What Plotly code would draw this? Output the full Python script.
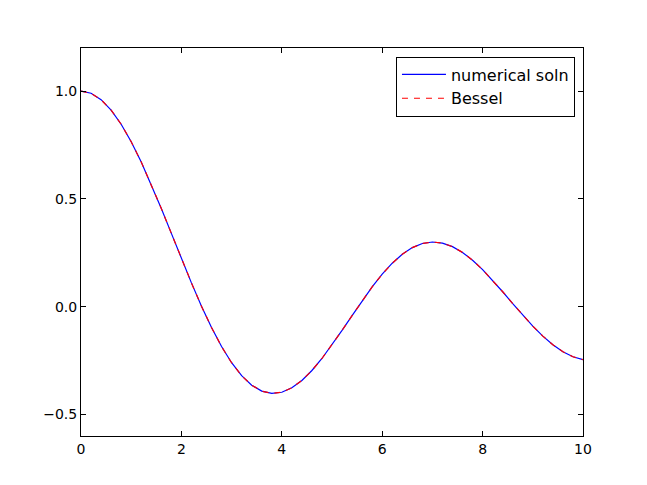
import plotly.graph_objects as go

x_vals = [0.0, 0.2, 0.4, 0.6, 0.8, 1.0, 1.2, 1.4, 1.6, 1.8, 2.0, 2.2, 2.4, 2.6, 2.8,
          3.0, 3.2, 3.4, 3.6, 3.8, 4.0, 4.2, 4.4, 4.6, 4.8, 5.0, 5.2, 5.4, 5.6, 5.8,
          6.0, 6.2, 6.4, 6.6, 6.8, 7.0, 7.2, 7.4, 7.6, 7.8, 8.0, 8.2, 8.4, 8.6, 8.8,
          9.0, 9.2, 9.4, 9.6, 9.8, 10.0]

numerical_soln = [1.0, 0.99002, 0.96040, 0.91200, 0.84629, 0.76520, 0.67113, 0.56686,
                  0.45540, 0.33999, 0.22389, 0.11036, 0.00251, -0.09680, -0.18504,
                  -0.26005, -0.32019, -0.36430, -0.39177, -0.40256, -0.39715, -0.37656,
                  -0.34226, -0.29614, -0.24043, -0.17760, -0.11029, -0.04121, 0.02697,
                  0.09170, 0.15065, 0.20175, 0.24331, 0.27404, 0.29310, 0.30008,
                  0.29507, 0.27860, 0.25160, 0.21541, 0.17165, 0.12222, 0.06916,
                  0.01462, -0.03923, -0.09033, -0.13675, -0.17677, -0.20898, -0.23228,
                  -0.24594]

bessel = [1.0, 0.99002, 0.96040, 0.91200, 0.84629, 0.76520, 0.67113, 0.56686,
          0.45540, 0.33999, 0.22389, 0.11036, 0.00251, -0.09680, -0.18504,
          -0.26005, -0.32019, -0.36430, -0.39177, -0.40256, -0.39715, -0.37656,
          -0.34226, -0.29614, -0.24043, -0.17760, -0.11029, -0.04121, 0.02697,
          0.09170, 0.15065, 0.20175, 0.24331, 0.27404, 0.29310, 0.30008,
          0.29507, 0.27860, 0.25160, 0.21541, 0.17165, 0.12222, 0.06916,
          0.01462, -0.03923, -0.09033, -0.13675, -0.17677, -0.20898, -0.23228,
          -0.24594]

x_ticks = [0, 2, 4, 6, 8, 10]
y_ticks = [-0.5, 0.0, 0.5, 1.0]

fig = go.Figure()
fig.add_trace(go.Scatter(x=x_vals, y=numerical_soln, mode="lines", name="numerical soln",
                         line=dict(color="#0000ff", width=1.2)))
fig.add_trace(go.Scatter(x=x_vals, y=bessel, mode="lines", name="Bessel",
                         line=dict(color="#ff0000", width=1.2, dash="6px,6px")))

axis_common = dict(showgrid=False, zeroline=False, showline=True, linecolor="black",
                   linewidth=1, mirror="ticks", ticks="inside", ticklen=5,
                   tickcolor="black", tickwidth=1,
                   tickfont=dict(family="DejaVu Sans", size=14, color="black"))

fig.update_layout(
    width=639, height=477,
    margin=dict(l=73, r=64, t=40, b=49),
    paper_bgcolor="white", plot_bgcolor="white",
    xaxis=dict(range=[0, 10], tickvals=x_ticks, ticktext=[str(v) for v in x_ticks], **axis_common),
    yaxis=dict(range=[-0.6, 1.2], tickvals=y_ticks, tickformat=".1f", **axis_common),
    legend=dict(x=0.984, y=0.978, xanchor="right", yanchor="top",
                bordercolor="black", borderwidth=1, bgcolor="white",
                font=dict(family="DejaVu Sans", size=16, color="black"),
                itemwidth=44),
    showlegend=True,
)

fig.write_html("out.html")
